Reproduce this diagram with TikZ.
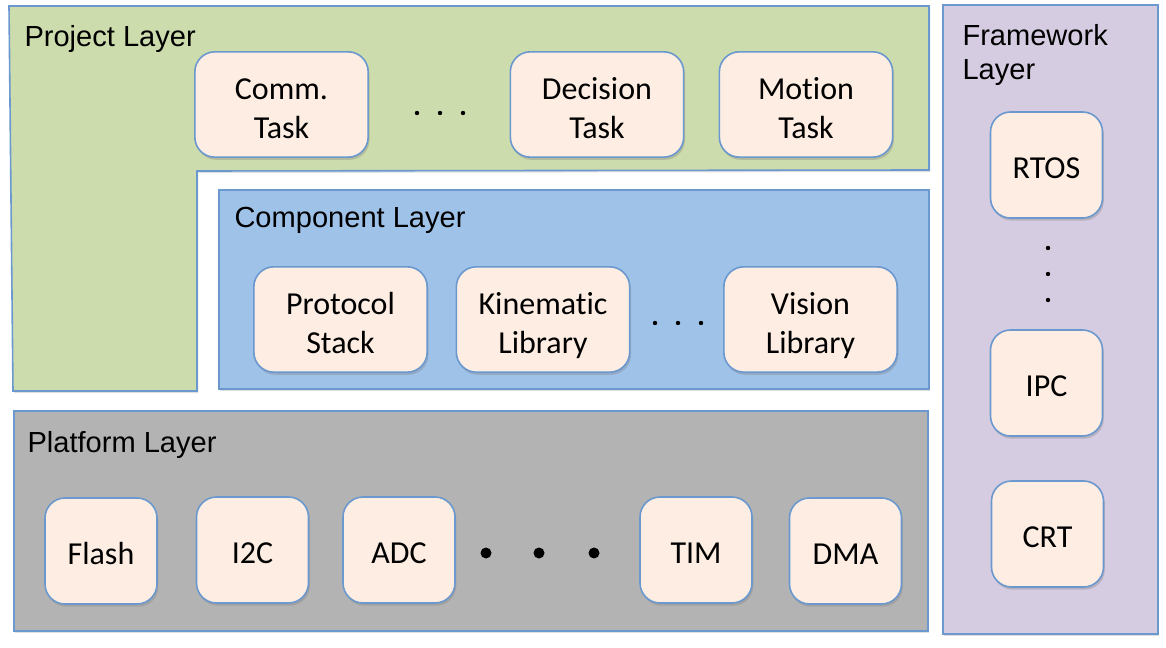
\documentclass[tikz,border=0pt]{standalone}
\usepackage{fontspec}
\setmainfont[Ligatures=NoCommon]{Carlito}
\newfontfamily\layerfont{Liberation Sans}
\usetikzlibrary{shadows}

\definecolor{projgreen}{HTML}{CDDCAC}
\definecolor{compblue}{HTML}{9FC2E9}
\definecolor{platgray}{HTML}{B3B3B3}
\definecolor{framelilac}{HTML}{D6CCE1}
\definecolor{boxfill}{HTML}{FDEDE2}
\definecolor{edgeblue}{HTML}{6A98CF}

\tikzset{every picture/.style={line width=0.75pt}}
\tikzset{
	layer/.style={draw=edgeblue, line width=1.2pt, drop shadow={opacity=0.25, shadow xshift=1pt, shadow yshift=-1.5pt}},
	unit/.style={draw=edgeblue, fill=boxfill, line width=1.2pt, rounded corners=15pt, align=center, inner sep=0pt,
		font=\fontsize{24}{29.3}\selectfont,
		drop shadow={opacity=0.35, shadow xshift=1pt, shadow yshift=-2pt}},
	taskbox/.style={unit, minimum width=130pt, minimum height=79pt, text height=51.4pt, text depth=0pt},
	drvbox/.style={unit, minimum width=84pt, minimum height=79.5pt, execute at begin node={\rule{0pt}{20pt}}},
	title/.style={anchor=base west, inner sep=0.75pt, font=\layerfont\fontsize{21.8}{26}\selectfont}
}

\begin{document}
\begin{tikzpicture}[x=0.75pt,y=0.75pt,yscale=-1,xscale=1]
		\useasboundingbox (0,0) rectangle (1166,648);
		
		%Project layer (notched shape)
		\draw [layer, fill=projgreen] (9,6) -- (929,6) -- (929,170) -- (197,171) -- (197,391) -- (13,391) -- cycle ;
		%Component layer
		\draw [layer, fill=compblue] (219,190) rectangle (929,389) ;
		%Platform layer
		\draw [layer, fill=platgray] (14,411) rectangle (928,631) ;
		%Framework layer
		\draw [layer, fill=framelilac] (943,5) rectangle (1158,634) ;
		
		\draw (23,47) node [title] (projtitle) {Project Layer};
		\draw (233,228) node [title] (comptitle) {Component Layer};
		\draw (26,452) node [title] (plattitle) {Platform Layer};
		\draw (961,46) node [title] (frametitle1) {Framework};
		\draw (961,80) node [title] (frametitle2) {Layer};
		
		%tasks
		\node [taskbox] (comm) at (281.5,104.5) {Comm.\\Task};
		\node [taskbox] (decision) at (597,104.5) {Decision\\Task};
		\node [taskbox] (motion) at (806,104.5) {Motion\\Task};
		\fill (417,113) circle (2.2) (440,113) circle (2.2) (463,113) circle (2.2) ;
		
		%components
		\node [taskbox] (protocol) at (340.5,319.5) {Protocol\\Stack};
		\node [taskbox] (kinematic) at (543,319.5) {Kinematic\\Library};
		\node [taskbox] (vision) at (810.5,319.5) {Vision\\Library};
		\fill (655,323) circle (2.2) (678,323) circle (2.2) (701,323) circle (2.2) ;
		
		%platform drivers
		\node [drvbox] (flash) at (101,551) {Flash};
		\node [drvbox] (iic) at (252.5,550) {I2C};
		\node [drvbox] (adc) at (399,550) {ADC};
		\node [drvbox] (tim) at (696,550) {TIM};
		\node [drvbox] (dma) at (845.5,551) {DMA};
		\fill (486,553) circle (5.5) (539,553) circle (5.5) (594,553) circle (5.5) ;
		
		%framework services
		\node [drvbox] (rtos) at (1046.5,165) {RTOS};
		\node [drvbox] (ipc) at (1046.5,383) {IPC};
		\node [drvbox] (crt) at (1047.5,534) {CRT};
		\fill (1048,248) circle (2.2) (1048,274) circle (2.2) (1048,300) circle (2.2) ;
		
	\end{tikzpicture}
\end{document}
